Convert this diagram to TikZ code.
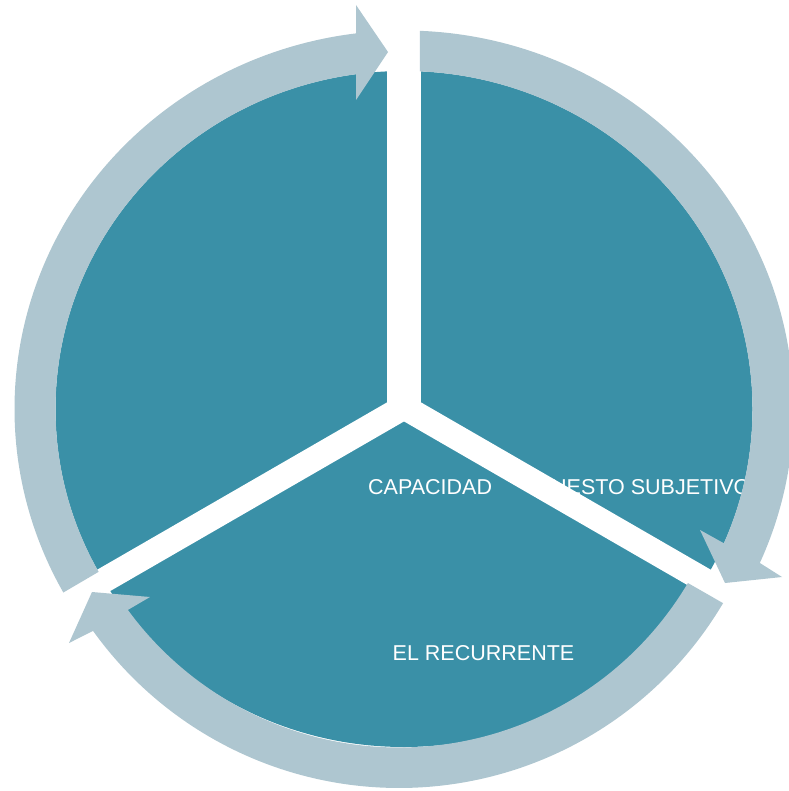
\documentclass[tikz,border=0pt]{standalone}
\usepackage{fontspec}
\setmainfont{Liberation Sans}
\usetikzlibrary{positioning}

\begin{document}
\begin{tikzpicture}[x=1pt, y=-1pt,
        pie/.style={fill=cycteal},
        ring/.style={fill=cycgrey},
        splitband/.style={draw=white, line width=#1},
        lbl/.style={text=white, font=\fontsize{21.5}{25}\selectfont, inner sep=0pt, anchor=base west}]
    \definecolor{cycteal}{RGB}{58,144,167}
    \definecolor{cycgrey}{RGB}{174,198,208}

    \useasboundingbox (0,0) rectangle (788,791);

    \coordinate (c) at (404,409);
    \coordinate (cb) at (399,411.5);

    % Pie body
    \fill[pie] (c) ellipse [x radius=348.5, y radius=338];

    % Labels (partly hidden below the splits and the ring)
    \node[lbl] (capacidad) at (368,494) {CAPACIDAD};
    \node[lbl] (subjetivo) at (551,494) {UESTO SUBJETIVO};
    \node[lbl] (recurrente) at (392.5,660) {EL RECURRENTE};

    \begin{scope}[shift={(c)}]
        % White splits between the segments
        \draw[splitband=34] (0,-2) -- (0,-420);
        \draw[splitband=25] (0,-2) -- ++(30:430);
        \draw[splitband=25] (0,-2) -- ++(150:430);

        % Ring arrow, top right
        \fill[ring] (-87.65:389.5 and 378.5) arc[start angle=-87.65, end angle=24, x radius=389.5, y radius=378.5]
            -- (378,168) -- (321,174) -- (296,121)
            -- (23.4:348.5 and 338) arc[start angle=23.4, end angle=-87.37, x radius=348.5, y radius=338] -- cycle;

        % Ring arrow, left
        \fill[ring] (151:389.5 and 378.5) arc[start angle=151, end angle=262.92, x radius=389.5, y radius=378.5]
            -- (-48,-404) -- (-16,-357) -- (-48,-309)
            -- (262.1:348.5 and 338) arc[start angle=262.1, end angle=151.2, x radius=348.5, y radius=338] -- cycle;
    \end{scope}

    % Ring arrow, bottom (own centre)
    \begin{scope}[shift={(cb)}]
        \fill[ring] (30.6:376.5) arc[start angle=30.6, end angle=144.35, radius=376.5]
            -- (-330,231.5) -- (-307,180.5) -- (-249,185.5)
            -- (143.8:336) arc[start angle=143.8, end angle=30.7, radius=336] -- cycle;
    \end{scope}
\end{tikzpicture}
\end{document}
